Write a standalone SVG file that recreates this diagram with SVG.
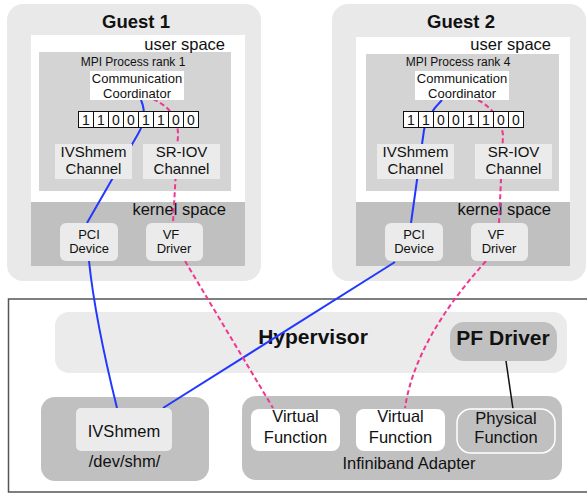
<svg xmlns="http://www.w3.org/2000/svg" width="587" height="493" viewBox="0 0 587 493">
  <style>
    text { font-family: "Liberation Sans", Arial, sans-serif; fill: #111; }
    .title { font-size: 18.5px; font-weight: bold; text-anchor: middle; }
    .big { font-size: 21px; font-weight: bold; text-anchor: middle; }
    .space { font-size: 16.5px; text-anchor: end; }
    .proc { font-size: 12px; text-anchor: middle; }
    .coord { font-size: 13px; text-anchor: middle; }
    .chan { font-size: 15px; text-anchor: middle; }
    .dev { font-size: 13px; text-anchor: middle; }
    .bit { font-size: 14px; text-anchor: middle; }
    .hw { font-size: 16.5px; text-anchor: middle; }
    .guest { fill: #e9e9e9; }
    .user { fill: #ffffff; }
    .kernel { fill: #c0c0c0; }
    .mpi { fill: #d4d4d4; }
    .light { fill: #ebebeb; }
    .white { fill: #ffffff; }
    .dark { fill: #c0c0c0; }
    .cell { fill: #ffffff; stroke: #111; stroke-width: 1; }
    .shm { fill: none; stroke: #2238ff; stroke-width: 2; }
    .sriov { fill: none; stroke: #f0368f; stroke-width: 2; stroke-dasharray: 5 3; }
    .ctl { fill: none; stroke: #111; stroke-width: 1.5; }
  </style>

  <!-- host frame -->
  <rect id="host" x="8.5" y="299" width="590" height="193" fill="#fff" stroke="#555" stroke-width="1.5"/>

  <!-- containers -->
  <g id="guest1">
    <rect class="guest" x="7" y="4" width="254" height="277" rx="16"/>
    <rect class="user" x="31" y="35" width="214" height="167"/>
    <rect class="kernel" x="31" y="202" width="214" height="64"/>
    <rect class="mpi" x="39" y="52" width="192" height="139"/>
    <text class="title" x="136" y="28">Guest 1</text>
    <text class="space" x="225" y="50">user space</text>
    <text class="proc" x="133" y="66">MPI Process rank 1</text>
    <text class="space" x="226" y="215">kernel space</text>
  </g>
  <g id="guest2">
    <rect class="guest" x="332" y="4" width="254" height="277" rx="16"/>
    <rect class="user" x="356" y="37" width="214" height="165"/>
    <rect class="kernel" x="356" y="202" width="214" height="64"/>
    <rect class="mpi" x="366" y="54" width="193" height="137"/>
    <text class="title" x="461" y="28">Guest 2</text>
    <text class="space" x="551" y="50">user space</text>
    <text class="proc" x="458" y="66">MPI Process rank 4</text>
    <text class="space" x="551" y="215">kernel space</text>
  </g>
  <g id="hypervisor">
    <rect class="light" x="55" y="312" width="512" height="61" rx="14"/>
    <text class="big" x="313" y="344">Hypervisor</text>
  </g>
  <g id="shm-host">
    <rect class="dark" x="41" y="397" width="168" height="84" rx="14"/>
    <text class="hw" x="124.5" y="467">/dev/shm/</text>
  </g>
  <g id="infiniband">
    <rect class="dark" x="242" y="396" width="320" height="84" rx="14"/>
    <text class="hw" x="409" y="469">Infiniband Adapter</text>
  </g>

  <!-- connectors -->
  <g id="connectors">
    <path class="shm" d="M141,100 C146,112 144,124 138,134 L87,223"/>
    <path class="sriov" d="M153,99 C170,107 178,118 178,135 L173,223"/>
    <path class="shm" d="M442,100 C434,108 426,118 424,130 L411,223"/>
    <path class="sriov" d="M478,100 Q500,112 503,135 L499,223"/>
    <path class="shm" d="M89,261 Q95,319 117,408"/>
    <path class="shm" d="M395,262 L163,408"/>
    <path class="sriov" d="M185,261 L273,408"/>
    <path class="sriov" d="M486,261 Q415,340 405,408"/>
    <path class="ctl" d="M506,361 L513,409"/>
  </g>

  <!-- Guest 1 nodes -->
  <g id="coord1">
    <rect class="white" x="90" y="71" width="94" height="29"/>
    <text class="coord" x="137" y="83">Communication</text>
    <text class="coord" x="137" y="97.5">Coordinator</text>
  </g>
  <g id="bits1">
    <rect class="cell" x="78.5" y="111.5" width="15" height="16"/>
    <rect class="cell" x="93.5" y="111.5" width="15" height="16"/>
    <rect class="cell" x="108.5" y="111.5" width="15" height="16"/>
    <rect class="cell" x="123.5" y="111.5" width="15" height="16"/>
    <rect class="cell" x="138.5" y="111.5" width="15" height="16"/>
    <rect class="cell" x="153.5" y="111.5" width="15" height="16"/>
    <rect class="cell" x="168.5" y="111.5" width="15" height="16"/>
    <rect class="cell" x="183.5" y="111.5" width="15" height="16"/>
    <text class="bit" x="86" y="124.5">1</text>
    <text class="bit" x="101" y="124.5">1</text>
    <text class="bit" x="116" y="124.5">0</text>
    <text class="bit" x="131" y="124.5">0</text>
    <text class="bit" x="146" y="124.5">1</text>
    <text class="bit" x="161" y="124.5">1</text>
    <text class="bit" x="176" y="124.5">0</text>
    <text class="bit" x="191" y="124.5">0</text>
  </g>
  <g id="ivshmem-chan1">
    <rect class="light" x="55" y="144" width="77" height="35"/>
    <text class="chan" x="93.5" y="157">IVShmem</text>
    <text class="chan" x="93.5" y="174">Channel</text>
  </g>
  <g id="sriov-chan1">
    <rect class="light" x="143" y="144" width="77" height="35"/>
    <text class="chan" x="181.5" y="157">SR-IOV</text>
    <text class="chan" x="181.5" y="174">Channel</text>
  </g>
  <g id="pci1">
    <rect class="light" x="60" y="223" width="58" height="38" rx="6"/>
    <text class="dev" x="89" y="238.5">PCI</text>
    <text class="dev" x="89" y="253">Device</text>
  </g>
  <g id="vfdrv1">
    <rect class="light" x="146" y="223" width="57" height="38" rx="6"/>
    <text class="dev" x="171" y="238.5">VF</text>
    <text class="dev" x="174" y="253">Driver</text>
  </g>

  <!-- Guest 2 nodes -->
  <g id="coord2">
    <rect class="white" x="415" y="71" width="94" height="29"/>
    <text class="coord" x="462" y="83">Communication</text>
    <text class="coord" x="462" y="97.5">Coordinator</text>
  </g>
  <g id="bits2">
    <rect class="cell" x="403.5" y="111.5" width="15" height="16"/>
    <rect class="cell" x="418.5" y="111.5" width="15" height="16"/>
    <rect class="cell" x="433.5" y="111.5" width="15" height="16"/>
    <rect class="cell" x="448.5" y="111.5" width="15" height="16"/>
    <rect class="cell" x="463.5" y="111.5" width="15" height="16"/>
    <rect class="cell" x="478.5" y="111.5" width="15" height="16"/>
    <rect class="cell" x="493.5" y="111.5" width="15" height="16"/>
    <rect class="cell" x="508.5" y="111.5" width="15" height="16"/>
    <text class="bit" x="411" y="124.5">1</text>
    <text class="bit" x="426" y="124.5">1</text>
    <text class="bit" x="441" y="124.5">0</text>
    <text class="bit" x="456" y="124.5">0</text>
    <text class="bit" x="471" y="124.5">1</text>
    <text class="bit" x="486" y="124.5">1</text>
    <text class="bit" x="501" y="124.5">0</text>
    <text class="bit" x="516" y="124.5">0</text>
  </g>
  <g id="ivshmem-chan2">
    <rect class="light" x="377" y="144" width="77" height="35"/>
    <text class="chan" x="415.5" y="157">IVShmem</text>
    <text class="chan" x="415.5" y="174">Channel</text>
  </g>
  <g id="sriov-chan2">
    <rect class="light" x="475" y="144" width="77" height="35"/>
    <text class="chan" x="513.5" y="157">SR-IOV</text>
    <text class="chan" x="513.5" y="174">Channel</text>
  </g>
  <g id="pci2">
    <rect class="light" x="385" y="223" width="58" height="38" rx="6"/>
    <text class="dev" x="414" y="238.5">PCI</text>
    <text class="dev" x="414" y="253">Device</text>
  </g>
  <g id="vfdrv2">
    <rect class="light" x="471" y="223" width="57" height="38" rx="6"/>
    <text class="dev" x="496" y="238.5">VF</text>
    <text class="dev" x="499" y="253">Driver</text>
  </g>

  <!-- host nodes -->
  <g id="pf-driver">
    <rect class="dark" x="450" y="322" width="107" height="39" rx="14"/>
    <text class="big" x="503" y="345">PF Driver</text>
  </g>
  <g id="ivshmem">
    <rect class="light" x="76" y="408" width="96" height="43" rx="5"/>
    <text class="hw" x="124" y="437">IVShmem</text>
  </g>
  <g id="vf-a">
    <rect class="white" x="251" y="409" width="89" height="42" rx="8"/>
    <text class="hw" x="295.5" y="422">Virtual</text>
    <text class="hw" x="295.5" y="443">Function</text>
  </g>
  <g id="vf-b">
    <rect class="white" x="356" y="409" width="89" height="42" rx="8"/>
    <text class="hw" x="400.5" y="422">Virtual</text>
    <text class="hw" x="400.5" y="443">Function</text>
  </g>
  <g id="pf">
    <rect class="dark" x="457" y="409" width="98" height="44" rx="14" stroke="#fff" stroke-width="1.5"/>
    <text class="hw" x="506" y="423.5">Physical</text>
    <text class="hw" x="506" y="442.5">Function</text>
  </g>
</svg>
